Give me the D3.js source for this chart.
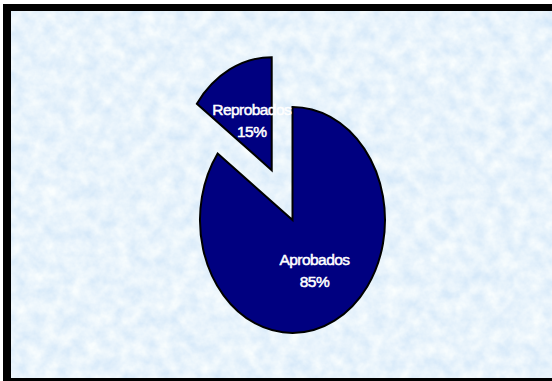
<!DOCTYPE html>
<html>
<head>
<meta charset="utf-8">
<script src="https://cdn.jsdelivr.net/npm/d3@7/dist/d3.min.js"></script>
<style>
  html, body { margin: 0; padding: 0; background: #ffffff; }
  svg { display: block; }
</style>
</head>
<body>
<svg id="chart" width="552" height="381"></svg>
<script>
// ---- data ----
const categories = ["Aprobados", "Reprobados"];
const values = [85, 15];
const percentLabels = ["85%", "15%"];
const exploded = [false, true];

// ---- layout ----
const W = 552, H = 381;
const cx = 292.5, cy = 220;   // pie centre
const rx = 92.5, ry = 113;    // elliptical radii
const explodeFrac = 0.495;
const fill = "#000080";

const svg = d3.select("#chart");

// background texture
const defs = svg.append("defs");
const f = defs.append("filter").attr("id", "tex")
  .attr("x", 0).attr("y", 0).attr("width", 1).attr("height", 1)
  .attr("filterUnits", "objectBoundingBox");
f.append("feTurbulence").attr("type", "fractalNoise")
  .attr("baseFrequency", "0.07").attr("numOctaves", 4).attr("seed", 7).attr("result", "n");
f.append("feColorMatrix").attr("in", "n").attr("type", "matrix")
  .attr("values", "0.38 0 0 0 0.62  0.24 0 0 0 0.78  0.06 0 0 0 0.94  0 0 0 0 1");

svg.append("rect").attr("x", 3).attr("y", 4).attr("width", W).attr("height", H)
  .attr("fill", "#000");
svg.append("rect").attr("x", 11).attr("y", 11).attr("width", W - 11).attr("height", 367)
  .attr("fill", "#d2e6f9");
svg.append("rect").attr("x", 11).attr("y", 11).attr("width", W - 11).attr("height", 367)
  .attr("filter", "url(#tex)");

// ---- pie ----
const data = categories.map((c, i) => ({ name: c, value: values[i], pct: percentLabels[i], ex: exploded[i] }));
const pie = d3.pie().sort(null).value(d => d.value).startAngle(0).endAngle(2 * Math.PI);
const arcs = pie(data);
const arc = d3.arc().innerRadius(0).outerRadius(1);

const offset = a => {
  if (!a.data.ex) return [0, 0];
  const mid = (a.startAngle + a.endAngle) / 2;
  return [Math.sin(mid) * rx * explodeFrac, -Math.cos(mid) * ry * explodeFrac];
};

const g = svg.append("g");
arcs.forEach(a => {
  const [ox, oy] = offset(a);
  g.append("path")
    .attr("d", arc(a))
    .attr("transform", `translate(${cx + ox},${cy + oy}) scale(${rx},${ry})`)
    .attr("fill", fill)
    .attr("stroke", "#000")
    .attr("stroke-width", 2)
    .attr("vector-effect", "non-scaling-stroke");
});

// labels
arcs.forEach(a => {
  const [ox, oy] = offset(a);
  const c = arc.centroid(a);
  const lx = cx + ox + c[0] * rx;
  const ly = cy + oy + c[1] * ry;
  const t = svg.append("text")
    .attr("text-anchor", "middle")
    .attr("fill", "#ffffff")
    .attr("stroke", "#ffffff")
    .attr("stroke-width", 0.5)
    .attr("font-family", "'Liberation Sans', Arial, sans-serif")
    .attr("font-size", 15.5)
    .attr("letter-spacing", "-0.55px");
  t.append("tspan").attr("x", lx + 1).attr("y", ly - 5).text(a.data.name);
  t.append("tspan").attr("x", lx + 1).attr("y", ly + 17).text(a.data.pct);
});
</script>
</body>
</html>
